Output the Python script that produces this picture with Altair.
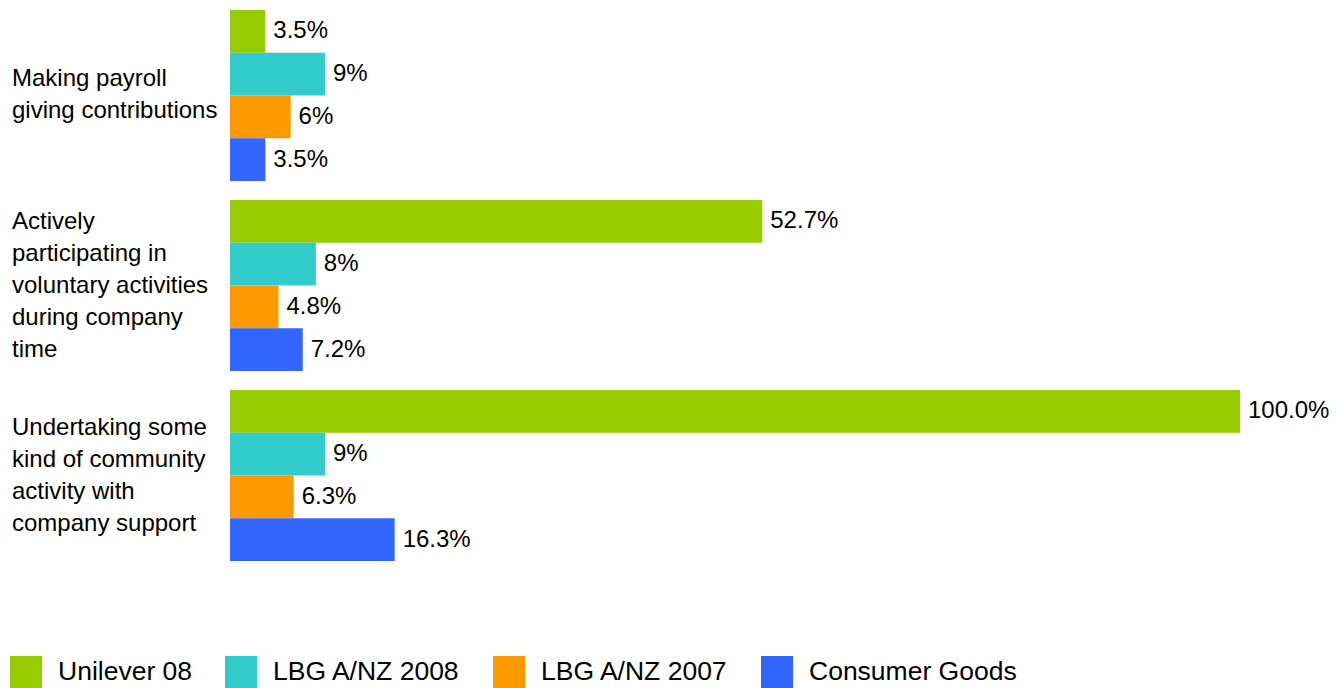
import altair as alt
import pandas as pd

categories = [
    "Making payroll\ngiving contributions",
    "Actively\nparticipating in\nvoluntary activities\nduring company\ntime",
    "Undertaking some\nkind of community\nactivity with\ncompany support",
]
series = ["Unilever 08", "LBG A/NZ 2008", "LBG A/NZ 2007", "Consumer Goods"]
colors = ["#99CC00", "#33CCCC", "#FF9900", "#3366FF"]

unilever = [3.5, 52.7, 100.0]
lbg2008 = [9.4, 8.5, 9.4]
lbg2007 = [6.0, 4.8, 6.3]
consumer = [3.5, 7.2, 16.3]

labels_unilever = ["3.5%", "52.7%", "100.0%"]
labels_lbg2008 = ["9%", "8%", "9%"]
labels_lbg2007 = ["6%", "4.8%", "6.3%"]
labels_consumer = ["3.5%", "7.2%", "16.3%"]

values = [unilever, lbg2008, lbg2007, consumer]
labels = [labels_unilever, labels_lbg2008, labels_lbg2007, labels_consumer]

rows = []
for s, vals, labs in zip(series, values, labels):
    for c, v, l in zip(categories, vals, labs):
        rows.append({"category": c, "series": s, "value": v, "label": l})
df = pd.DataFrame(rows)

FONT = "Liberation Sans"
LINE_H = 32
CAT_FS = 24

y_scale = alt.Scale(domain=categories, paddingInner=0.1, paddingOuter=0.0105)
y_enc = alt.Y("category:N", sort=categories, axis=None, scale=y_scale)
yoff_enc = alt.YOffset(
    "series:N", sort=series, scale=alt.Scale(domain=series, paddingInner=0, paddingOuter=0)
)
x_enc = alt.X("value:Q", scale=alt.Scale(domain=[0, 100], nice=False, zero=True), axis=None)

bars = alt.Chart(df).mark_bar().encode(
    y=y_enc,
    yOffset=yoff_enc,
    x=x_enc,
    color=alt.Color(
        "series:N",
        sort=series,
        scale=alt.Scale(domain=series, range=colors),
        legend=alt.Legend(
            orient="none",
            legendX=-220,
            legendY=648,
            direction="horizontal",
            title=None,
            symbolType="square",
            symbolSize=1024,
            symbolStrokeWidth=0,
            labelFontSize=26.5,
            labelFont=FONT,
            labelColor="#000000",
            labelOffset=16,
            columnPadding=32,
            labelLimit=500,
            padding=0,
        ),
    ),
)

texts = alt.Chart(df).mark_text(
    align="left", baseline="middle", dx=8, fontSize=24, font=FONT, color="#000000"
).encode(y=y_enc, yOffset=yoff_enc, x=x_enc, text="label:N")

# one text layer per category so each multi-line block can be centred on its group
cat_layers = []
for c in categories:
    n_lines = len(c.split("\n"))
    cat_layers.append(
        alt.Chart(pd.DataFrame({"category": [c]}))
        .mark_text(
            align="left",
            baseline="middle",
            lineBreak="\n",
            lineHeight=LINE_H,
            fontSize=CAT_FS,
            font=FONT,
            color="#000000",
            dy=-(n_lines - 1) * LINE_H / 2,
        )
        .encode(
            y=alt.Y("category:N", sort=categories, axis=None, scale=y_scale),
            x=alt.value(-218),
            text="category:N",
        )
    )

chart = (
    alt.layer(bars, texts, *cat_layers)
    .properties(
        width=1010,
        height=555,
        padding={"left": 2, "top": 0, "right": 0, "bottom": 0},
        background="#ffffff",
    )
    .configure_view(stroke=None)
)

chart.save("out.html", embed_options={"renderer": "svg", "actions": False})
